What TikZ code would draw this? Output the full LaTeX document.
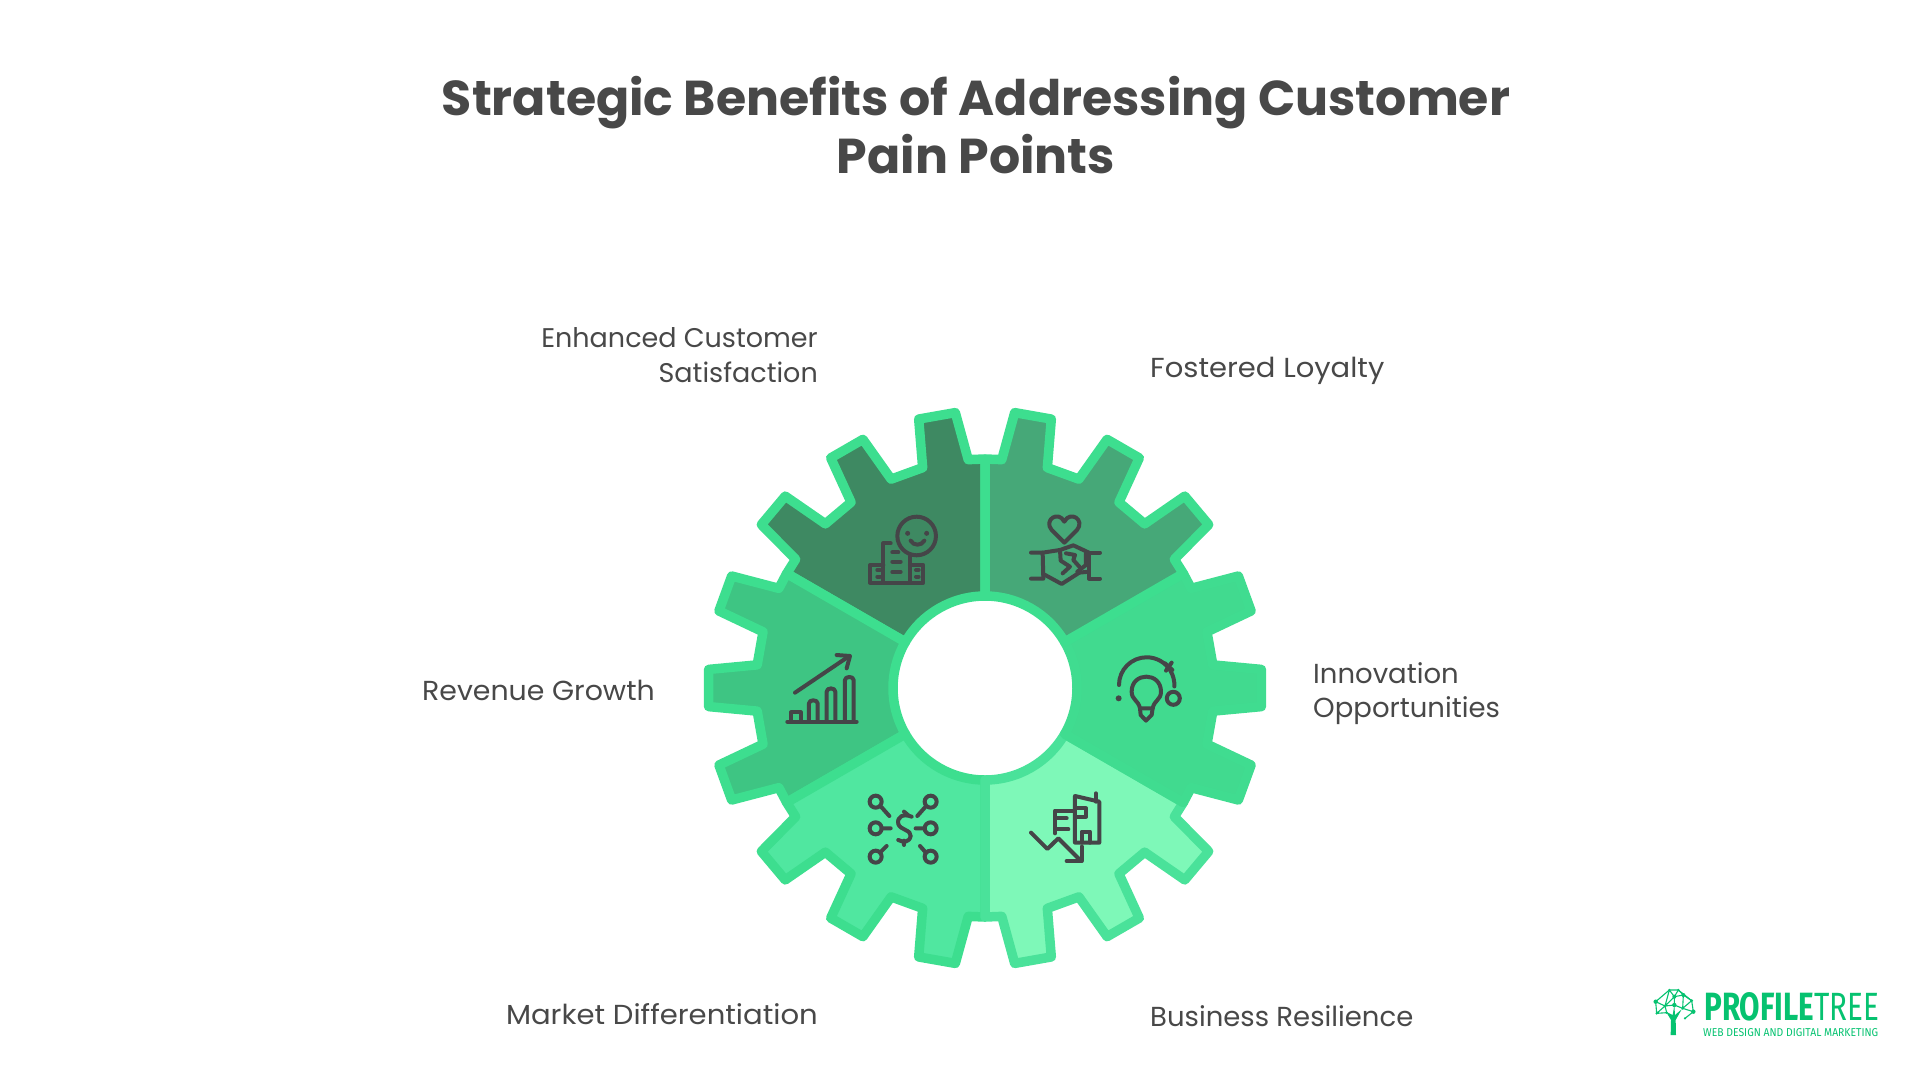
\documentclass[tikz,border=0pt]{standalone}
\usepackage{fontspec}
\usepackage{graphicx}
\setmainfont{Poppins}
\newfontfamily\logofont{Fira Sans}
\definecolor{inkc}{HTML}{484848}
\definecolor{iconc}{HTML}{454548}
\definecolor{edgec}{HTML}{3DDE8F}
\definecolor{edgeb}{HTML}{4AE29A}
\definecolor{edger}{HTML}{40DC90}
\definecolor{secA}{HTML}{3E8962}
\definecolor{secB}{HTML}{46A878}
\definecolor{secC}{HTML}{3EC583}
\definecolor{secD}{HTML}{50E7A0}
\definecolor{secE}{HTML}{7EF8B8}
\definecolor{secF}{HTML}{41DA8F}
\definecolor{logoc}{HTML}{06C270}
\newcommand{\gearsector}{(90:92pt) -- (90:229pt) -- (94.2:229pt) -- (96.15:277pt) -- (103.85:277pt) -- (105.8:229pt) -- (114.2:229pt) -- (116.15:277pt) -- (123.85:277pt) -- (125.8:229pt) -- (134.2:229pt) -- (136.15:277pt) -- (143.85:277pt) -- (145.8:229pt) -- (150:229pt) -- (150:92pt) arc[start angle=150,end angle=90,radius=92pt] -- cycle}
\tikzset{
  sectorline/.style={line width=9.5pt,line join=round},
  icon/.style={draw=iconc,line width=4pt,line cap=round,line join=round},
  titletext/.style={text=inkc,font=\fontsize{49}{58}\selectfont\bfseries,align=center,inner sep=0pt},
  labeltext/.style={text=inkc,font=\fontsize{27.5}{34.5}\selectfont,inner sep=0pt},
  logolink/.style={draw=logoc,line width=1.1pt},
  logodot/.style={fill=logoc},
}
\begin{document}
\begin{tikzpicture}[x=1pt,y=-1pt]
\useasboundingbox (0,0) rectangle (1920,1080);
% gear
\begin{scope}[shift={(985,688)}]
\foreach \r/\f/\s in {0/secA/edgec,60/secC/edgec,120/secD/edgec,180/secE/edgeb,240/secF/edger,300/secB/edgec}{
  \begin{scope}[rotate=\r]
    \filldraw[sectorline,fill=\f,draw=\s] \gearsector;
  \end{scope}
}
\end{scope}
% icon A : smiling building
\begin{scope}[shift={(680,390)},x=0.3333pt,y=-0.3333pt]
  \draw[icon] (710,438) circle[radius=19.3pt];
  \fill[iconc] (683,430) circle[radius=2.5pt] (740,430) circle[radius=2.5pt];
  \draw[icon] (692,452) .. controls (700,468) and (725,468) .. (733,452);
  \draw[icon] (632,460) -- (610,460) -- (610,575);
  \draw[icon] (690,500) -- (690,575);
  \draw[icon] (610,525) -- (570,525) -- (570,578) -- (730,578) -- (730,525) -- (690,525);
  \draw[icon] (637,487) -- (655,487) (637,515) -- (662,515) (637,546) -- (662,546);
  \draw[icon] (592,540) -- (600,540) (592,560) -- (600,560) (708,540) -- (716,540) (708,560) -- (716,560);
\end{scope}
% icon B : heart and handshake
\begin{scope}[shift={(960,390)},x=0.3333pt,y=-0.3333pt]
  \draw[icon] (313,458) -- (275,420) .. controls (250,390) and (295,360) .. (313,395) .. controls (331,360) and (376,390) .. (351,420) -- cycle;
  \draw[icon] (213,488) -- (248,488) -- (250,566) -- (213,566);
  \draw[icon] (420,488) -- (387,488) -- (387,566) -- (420,566);
  \draw[icon] (248,488) -- (300,480) -- (340,466) -- (387,488);
  \draw[icon] (250,552) -- (305,582) -- (358,548) -- (387,545);
  \draw[icon] (300,480) -- (302,512) -- (330,530) -- (308,550);
  \draw[icon] (318,490) -- (345,495) -- (340,510) -- (358,530);
  \draw[icon] (352,545) -- (378,525) -- (378,490);
\end{scope}
% icon C : growth chart
\begin{scope}[shift={(680,680)},x=0.3333pt,y=-0.3333pt]
  \draw[icon] (345,38) -- (508,-72);
  \draw[icon] (470,-75) -- (510,-72) -- (500,-35);
  \draw[icon] (322,125) -- (530,125);
  \draw[icon] (333,125) -- (333,97) -- (362,97) -- (362,125);
  \draw[icon] (387,125) -- (387,70) .. controls (387,58) and (413,58) .. (413,70) -- (413,125);
  \draw[icon] (440,125) -- (440,35) .. controls (440,22) and (466,22) .. (466,35) -- (466,125);
  \draw[icon] (495,125) -- (495,0) .. controls (495,-12) and (521,-12) .. (521,0) -- (521,125);
\end{scope}
% icon D : dollar network
\begin{scope}[shift={(680,680)},x=0.3333pt,y=-0.3333pt]
  \foreach \cx/\cy in {587/365,752/365,587/445,752/445,587/530,752/530}{
    \draw[icon] (\cx,\cy) circle[radius=6pt];
  }
  \draw[icon] (605,382) -- (628,408) (735,382) -- (712,408) (605,445) -- (632,445) (735,445) -- (707,445) (600,518) -- (620,498) (738,518) -- (720,498);
  \draw[icon] (695,410) .. controls (670,400) and (650,410) .. (655,432) .. controls (660,450) and (695,450) .. (692,468) .. controls (688,488) and (670,488) .. (655,480);
  \draw[icon] (672,395) -- (684,405) (672,495) -- (672,482);
\end{scope}
% icon E : falling building
\begin{scope}[shift={(960,680)},x=0.3333pt,y=-0.3333pt]
  \draw[icon] (213,458) -- (262,507) -- (295,475) -- (360,540);
  \draw[icon] (320,543) -- (365,543) -- (365,500);
  \draw[icon] (285,460) -- (285,392) -- (345,392);
  \draw[icon] (285,415) -- (320,415) (285,448) -- (325,448);
  \draw[icon] (345,348) -- (345,488) -- (418,488) -- (418,365) -- cycle;
  \draw[icon] (408,340) -- (408,365);
  \draw[icon] (350,385) -- (378,385) -- (378,410) -- (350,410);
  \draw[icon] (365,488) -- (365,455) -- (390,455) -- (390,488);
\end{scope}
% icon F : innovation bulb
\begin{scope}[shift={(960,390)},x=0.3333pt,y=-0.3333pt]
  \draw[icon] (477,885) arc[start angle=180,end angle=-3,radius=27.7pt];
  \draw[icon] (615,820) -- (637,840) (635,818) -- (618,842);
  \fill[iconc] (476,925) circle[radius=3pt];
  \draw[icon] (640,925) circle[radius=6.5pt];
  \draw[icon] (540,955) .. controls (535,930) and (515,930) .. (515,905) .. controls (515,845) and (603,845) .. (603,905) .. controls (603,930) and (583,930) .. (578,955) -- cycle;
  \draw[icon] (540,955) -- (542,975) -- (558,992) -- (575,975) -- (578,955);
\end{scope}
% title and labels
\node[titletext] (title) at (976,125) {Strategic Benefits of Addressing Customer\\Pain Points};
\node[labeltext,align=right,anchor=east,font=\fontsize{27}{34.5}\selectfont] (satisfaction) at (818,355) {Enhanced Customer\\Satisfaction};
\node[labeltext,anchor=west] (loyalty) at (1150,370.5) {\scalebox{1.055}[1]{Fostered Loyalty}};
\node[labeltext,align=left,anchor=west] (innovation) at (1313,693.5) {Innovation\\Opportunities};
\node[labeltext,anchor=east] (revenue) at (655,690) {\scalebox{1.033}[1]{Revenue Growth}};
\node[labeltext,anchor=east] (market) at (818,1014.5) {\scalebox{1.058}[1]{Market Differentiation}};
\node[labeltext,anchor=west] (resilience) at (1150,1016) {Business Resilience};
% logo
\begin{scope}[shift={(1640,970)},x=0.3333pt,y=-0.3333pt]
  \fill[logoc] (92,195) -- (108,195) -- (107,150) -- (125,118) -- (105,135) -- (103,105) -- (98,135) -- (78,125) -- (93,150) -- cycle;
  \draw[logolink] (47,95) -- (88,60) -- (115,60) -- (155,92) -- (160,125) -- (135,145);
  \draw[logolink] (47,95) -- (50,130) -- (75,108) -- (47,95) (75,108) -- (103,80) -- (130,75) -- (155,92) (88,60) -- (103,80) -- (115,60) -- (130,75) -- (128,115) -- (160,125) (75,108) -- (103,105) -- (103,80) (103,105) -- (128,115) -- (155,92) (75,108) -- (88,60) (50,130) -- (80,128) -- (75,108);
  \foreach \nx/\ny/\nr in {47/95/2.2,88/60/1.3,115/60/1.3,155/92/1.5,160/125/2.2,135/145/1.2,50/130/1.3,75/108/1.5,103/80/2,130/75/2,103/105/2.2,128/115/1.5,80/128/1.3}{
    \fill[logodot] (\nx,\ny) circle[radius=\nr pt];
  }
\end{scope}
\node[inner sep=0pt,anchor=west,text=logoc] (brand) at (1704,1007) {\logofont\resizebox{175pt}{28pt}{\textbf{PROFILE}TREE}};
\node[inner sep=0pt,anchor=west,text=logoc] (tagline) at (1703,1033) {\logofont\resizebox{175pt}{8pt}{WEB DESIGN AND DIGITAL MARKETING}};
\end{tikzpicture}
\end{document}
